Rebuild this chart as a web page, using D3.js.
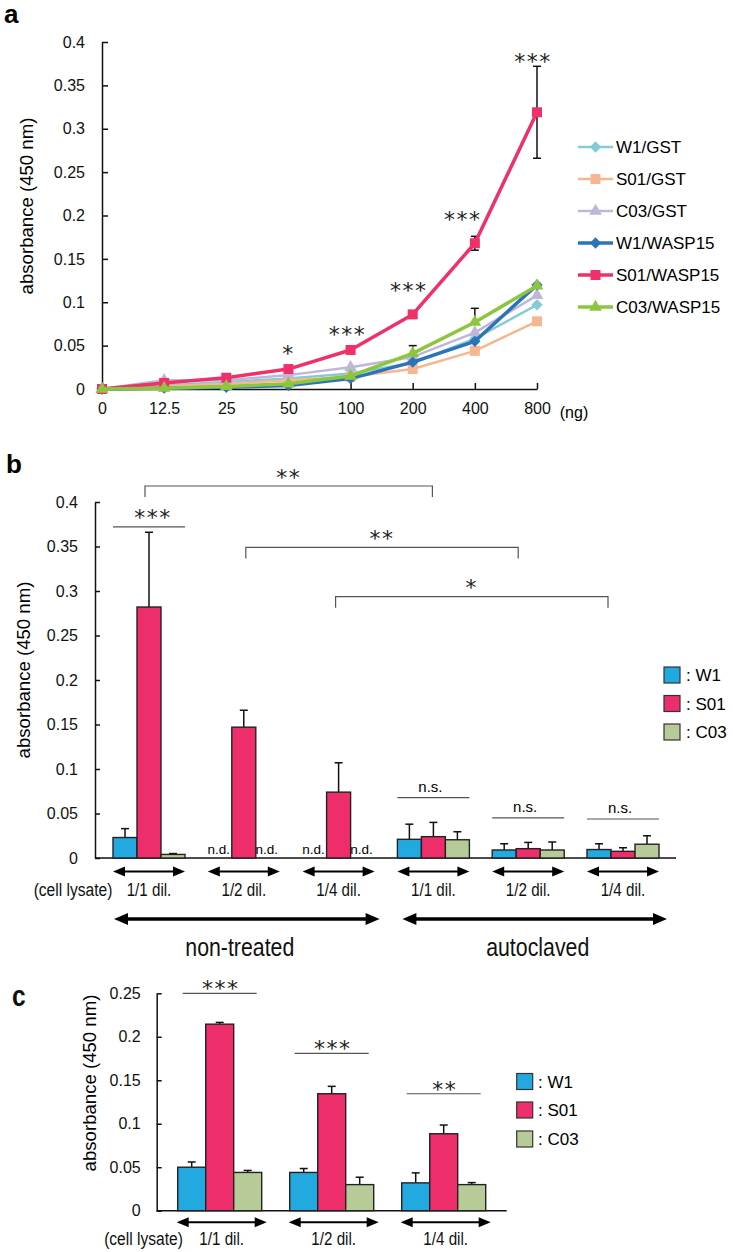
<!DOCTYPE html>
<html><head><meta charset="utf-8">
<script src="https://cdn.jsdelivr.net/npm/d3@7"></script>
<style>
body{margin:0;background:#fff}
svg{display:block}
</style>
</head><body>
<svg id="chart" width="733" height="1252"></svg>
<script>
// ---------------- DATA ----------------
// Panel a
const doses = ["0","12.5","25","50","100","200","400","800"];
const seriesNamesA = ["W1/GST","S01/GST","C03/GST","W1/WASP15","S01/WASP15","C03/WASP15"];
const w1GST   = [0,0.004,0.008,0.012,0.018,0.030,0.058,0.097];
const s01GST  = [0,0.003,0.006,0.010,0.014,0.023,0.044,0.078];
const c03GST  = [0,0.010,0.010,0.016,0.025,0.037,0.065,0.108];
const w1WASP  = [0,0.001,0.002,0.004,0.012,0.031,0.055,0.120];
const s01WASP = [0,0.007,0.013,0.023,0.045,0.086,0.168,0.319];
const c03WASP = [0,0.001,0.003,0.006,0.015,0.041,0.077,0.119];
const s01WASPerr = [0,0,0,0,0,0,0.008,0.053];
const c03WASPerr = [0,0,0,0,0,0.009,0.016,0];
const sigA = ["","","","*","***","***","***","***"];
const ticksA = [0,0.05,0.1,0.15,0.2,0.25,0.3,0.35,0.4];

// Panel b
const groupLabelsB = ["1/1 dil.","1/2 dil.","1/4 dil.","1/1 dil.","1/2 dil.","1/4 dil."];
const treatmentsB = ["non-treated","autoclaved"];
const strains = ["W1","S01","C03"];
const w1B  = [0.023,null,null,0.021,0.009,0.0095];
const s01B = [0.282,0.147,0.074,0.024,0.0105,0.0075];
const c03B = [0.004,null,null,0.0205,0.009,0.0155];
const w1Berr  = [0.010,null,null,0.017,0.007,0.0065];
const s01Berr = [0.084,0.019,0.033,0.016,0.007,0.004];
const c03Berr = [0.001,null,null,0.009,0.009,0.0095];
const sigWithinB = ["***","","","n.s.","n.s.","n.s."];
const bracketPairsB = [[0,3],[1,4],[2,5]];
const bracketLabelsB = ["**","**","*"];
const ticksB = [0,0.05,0.1,0.15,0.2,0.25,0.3,0.35,0.4];

// Panel c
const groupLabelsC = ["1/1 dil.","1/2 dil.","1/4 dil."];
const w1C  = [0.050,0.044,0.032];
const s01C = [0.2145,0.1345,0.0885];
const c03C = [0.044,0.030,0.030];
const w1Cerr  = [0.006,0.0045,0.0115];
const s01Cerr = [0.002,0.0085,0.010];
const c03Cerr = [0.0023,0.0085,0.0023];
const sigC = ["***","***","**"];
const ticksC = [0,0.05,0.1,0.15,0.2,0.25];

// ---------------- STYLE / LAYOUT ----------------
const SANS = "'Liberation Sans', Arial, sans-serif";
const STAR = "'DejaVu Sans', sans-serif";
const colA = ["#84cad7","#f6b68f","#bfb7d9","#2b74b9","#ee3169","#8cc63f"];
const widthA = [2.5,2.5,2.5,3.5,3.5,3.5];
const markerA = ["diamond","square","triangle","diamond","square","triangle"];
const colBar = {W1:"#22a9e0", S01:"#ee2e6b", C03:"#b6cb98"};

const svg = d3.select("#chart");

function styleAxis(g, size, fam){
  g.attr("font-family", fam).attr("font-size", size);
  g.selectAll("path,line").attr("stroke","#111").attr("stroke-width",1.5);
  g.selectAll("text").attr("fill","#111");
}
function stars(g, x, cy, label, size){
  g.append("text").attr("x",x).attr("y",cy + size*0.55)
   .attr("text-anchor","middle").attr("font-family",STAR)
   .attr("font-size",size).attr("letter-spacing",1.5).attr("fill","#222").text(label);
}
// condensed text (emulating a narrow face by horizontal scaling)
function narrow(g, x, y, size, label, opts={}){
  const t = g.append("text").attr("transform",`translate(${x},${y}) scale(0.82,1)`)
    .attr("text-anchor","middle").attr("font-family",SANS).attr("font-size",size).attr("fill","#111").text(label);
  if(opts.bold) t.attr("font-weight","bold");
  if(opts.anchor) t.attr("text-anchor",opts.anchor);
  return t;
}
function dblArrow(g, x1, x2, y, hl, hh, lw){
  g.append("line").attr("x1",x1+hl-1).attr("x2",x2-hl+1).attr("y1",y).attr("y2",y)
   .attr("stroke","#000").attr("stroke-width",lw);
  g.append("path").attr("d",`M${x1},${y}L${x1+hl},${y-hh}L${x1+hl},${y+hh}Z`).attr("fill","#000");
  g.append("path").attr("d",`M${x2},${y}L${x2-hl},${y-hh}L${x2-hl},${y+hh}Z`).attr("fill","#000");
}
function marker(g, type, x, y, color){
  let sym, size, rot = 0;
  if(type==="diamond"){ sym=d3.symbolSquare; size=64; rot=45; }
  else if(type==="square"){ sym=d3.symbolSquare; size=100; }
  else { sym=d3.symbolTriangle; size=70; }
  g.append("path").attr("d", d3.symbol().type(sym).size(size)())
   .attr("transform",`translate(${x},${y}) rotate(${rot})`).attr("fill",color);
}

// ================= PANEL A =================
const gA = svg.append("g");
gA.append("text").attr("x",4).attr("y",23).attr("font-family",SANS).attr("font-weight","bold")
  .attr("font-size",26).text("a");
const xA = d3.scalePoint().domain(doses).range([102,537]);
const yA = d3.scaleLinear().domain([0,0.4]).range([389,42]);

gA.append("g").attr("transform","translate(102,0)")
  .call(d3.axisLeft(yA).tickValues(ticksA).tickSize(-6).tickSizeOuter(0).tickPadding(17).tickFormat(d=>String(d)))
  .call(g=>styleAxis(g,16,SANS));
gA.append("g").attr("transform","translate(0,389)")
  .call(d3.axisBottom(xA).tickSize(-6).tickSizeOuter(0).tickPadding(14))
  .call(g=>styleAxis(g,16,SANS));
gA.append("text").attr("x",574).attr("y",418).attr("text-anchor","middle")
  .attr("font-family",SANS).attr("font-size",16).text("(ng)");
gA.append("text").attr("transform","translate(33,206) rotate(-90)").attr("text-anchor","middle")
  .attr("font-family",SANS).attr("font-size",18.6).text("absorbance (450 nm)");

const valsA = [w1GST,s01GST,c03GST,w1WASP,s01WASP,c03WASP];
const line = d3.line().x((d,i)=>xA(doses[i])).y(d=>yA(d));

const gErrA = gA.append("g").attr("stroke","#111").attr("stroke-width",1.5);
[[s01WASP,s01WASPerr,true],[c03WASP,c03WASPerr,false]].forEach(([v,e,both])=>{
  e.forEach((err,i)=>{
    if(!err) return;
    const x = xA(doses[i]);
    const yt = yA(v[i]+err), yb = both ? yA(v[i]-err) : yA(v[i]);
    gErrA.append("line").attr("x1",x).attr("x2",x).attr("y1",yt).attr("y2",yb);
    gErrA.append("line").attr("x1",x-4).attr("x2",x+4).attr("y1",yt).attr("y2",yt);
    if(both) gErrA.append("line").attr("x1",x-4).attr("x2",x+4).attr("y1",yb).attr("y2",yb);
  });
});

valsA.forEach((vals,s)=>{
  const g = gA.append("g");
  g.append("path").datum(vals).attr("d",line).attr("fill","none")
   .attr("stroke",colA[s]).attr("stroke-width",widthA[s]).attr("stroke-linejoin","round");
  vals.forEach((v,i)=>marker(g, markerA[s], xA(doses[i]), yA(v), colA[s]));
});

const sigOffA = [0,0,0,20,20,28,21,9];
const sigDxA = [0,0,0,0,-3,-4,-12,-4];
sigA.forEach((lab,i)=>{
  if(!lab) return;
  const top = s01WASP[i] + s01WASPerr[i];
  stars(gA, xA(doses[i]) + sigDxA[i], yA(top) - sigOffA[i], lab, 22);
});

seriesNamesA.forEach((name,s)=>{
  const y = 147 + 32*s;
  gA.append("line").attr("x1",578).attr("x2",613).attr("y1",y).attr("y2",y)
    .attr("stroke",colA[s]).attr("stroke-width",widthA[s]);
  marker(gA, markerA[s], 595.5, y, colA[s]);
  gA.append("text").attr("x",616).attr("y",y+6).attr("font-family",SANS).attr("font-size",17).text(name);
});

// ================= PANEL B =================
const gB = svg.append("g");
gB.append("text").attr("x",6).attr("y",473).attr("font-family",SANS).attr("font-weight","bold")
  .attr("font-size",26).text("b");
const yB = d3.scaleLinear().domain([0,0.4]).range([858,502]);
const xB = d3.scaleBand().domain(d3.range(groupLabelsB.length)).range([101.6,670.4]);
const groupW = 72;
const xBi = d3.scaleBand().domain(strains).range([0,groupW]);
const gLeft = i => xB(i) + (xB.bandwidth()-groupW)/2;
const gCenter = i => xB(i) + xB.bandwidth()/2;

gB.append("g").attr("transform","translate(95,0)")
  .call(d3.axisLeft(yB).tickValues(ticksB).tickSize(-5).tickSizeOuter(0).tickPadding(17).tickFormat(d=>String(d)))
  .call(g=>styleAxis(g,16,SANS));
gB.append("line").attr("x1",95).attr("x2",676).attr("y1",yB(0)).attr("y2",yB(0))
  .attr("stroke","#111").attr("stroke-width",1.5);
gB.append("text").attr("transform","translate(30,670) rotate(-90)").attr("text-anchor","middle")
  .attr("font-family",SANS).attr("font-size",18.6).text("absorbance (450 nm)");

const seriesB = [
  {key:"W1", vals:w1B, err:w1Berr},
  {key:"S01", vals:s01B, err:s01Berr},
  {key:"C03", vals:c03B, err:c03Berr}
];
function drawBars(g, series, nGroups, left, inner, y){
  for(let i=0;i<nGroups;i++){
    series.forEach(s=>{
      const v = s.vals[i];
      const x0 = left(i) + inner(s.key), bw = inner.bandwidth();
      if(v==null) return;
      const e = s.err[i] || 0, cx = x0 + bw/2;
      g.append("line").attr("x1",cx).attr("x2",cx).attr("y1",y(v)).attr("y2",y(v+e))
        .attr("stroke","#111").attr("stroke-width",1.5);
      g.append("line").attr("x1",cx-4).attr("x2",cx+4).attr("y1",y(v+e)).attr("y2",y(v+e))
        .attr("stroke","#111").attr("stroke-width",1.5);
      g.append("rect").attr("x",x0).attr("y",y(v)).attr("width",bw).attr("height",y(0)-y(v))
        .attr("fill",colBar[s.key]).attr("stroke","#222").attr("stroke-width",1.4);
    });
  }
}
drawBars(gB, seriesB, groupLabelsB.length, gLeft, xBi, yB);

seriesB.forEach(s=>{
  s.vals.forEach((v,i)=>{
    if(v!=null) return;
    gB.append("text").attr("x",gLeft(i)+xBi(s.key)+xBi.bandwidth()/2-1).attr("y",yB(0)-4)
      .attr("text-anchor","middle").attr("font-family",SANS).attr("font-size",13.5).text("n.d.");
  });
});

const withinLevelB = [0.372,0,0,0.0678,0.045,0.0438];
sigWithinB.forEach((lab,i)=>{
  if(!lab) return;
  const ly = yB(withinLevelB[i]);
  gB.append("line").attr("x1",gLeft(i)).attr("x2",gLeft(i)+groupW).attr("y1",ly).attr("y2",ly)
    .attr("stroke","#555").attr("stroke-width",1.2);
  if(lab==="n.s.") gB.append("text").attr("x",gCenter(i)-3).attr("y",ly-6).attr("text-anchor","middle")
    .attr("font-family",SANS).attr("font-size",15).text(lab);
  else stars(gB, gCenter(i)+4, ly-14, lab, 22);
});

const bracketLevelB = [0.418,0.349,0.2936];
const bracketDxL = [-4,2,-3], bracketDxR = [-1,-10,-15];
bracketPairsB.forEach(([a,b],k)=>{
  const ly = yB(bracketLevelB[k]);
  const xl = gCenter(a)+bracketDxL[k], xr = gCenter(b)+bracketDxR[k];
  gB.append("path").attr("d",`M${xl},${ly+11}V${ly}H${xr}V${ly+11}`)
    .attr("fill","none").attr("stroke","#555").attr("stroke-width",1.2);
  stars(gB, (xl+xr)/2, ly-13.5, bracketLabelsB[k], 22);
});

groupLabelsB.forEach((lab,i)=>{
  dblArrow(gB, gLeft(i), gLeft(i)+groupW, 871.5, 12, 5, 2);
  narrow(gB, gCenter(i), 896, 18.5, lab);
});
narrow(gB, 73, 896, 19, "(cell lysate)");
const bigL = [gLeft(0)+1, gLeft(3)+5], bigR = [gLeft(2)+groupW+5, gLeft(5)+groupW+8];
treatmentsB.forEach((lab,k)=>{
  dblArrow(gB, bigL[k], bigR[k], 919, 14, 6, 3.5);
  narrow(gB, (bigL[k]+bigR[k])/2 - (k===0?7:-3), 956, 26, lab);
});

strains.forEach((s,k)=>{
  const cy = [675,703.5,732][k];
  gB.append("rect").attr("x",664).attr("y",cy-8).attr("width",16).attr("height",16)
    .attr("fill",colBar[s]).attr("stroke","#333").attr("stroke-width",1.2);
  gB.append("text").attr("x",686).attr("y",cy+6).attr("font-family",SANS).attr("font-size",17).text(": "+s);
});

// ================= PANEL C =================
const gC = svg.append("g");
narrow(gC, 12, 1006, 30, "c", {bold:true, anchor:"start"});
const yC = d3.scaleLinear().domain([0,0.25]).range([1210.7,993.3]);
const xC = d3.scaleBand().domain(d3.range(groupLabelsC.length)).range([163.7,499.7]);
const groupWC = 84;
const xCi = d3.scaleBand().domain(strains).range([0,groupWC]);
const cLeft = i => xC(i) + (xC.bandwidth()-groupWC)/2;
const cCenter = i => xC(i) + xC.bandwidth()/2;

gC.append("g").attr("transform","translate(156.7,0)")
  .call(d3.axisLeft(yC).tickValues(ticksC).tickSize(-5).tickSizeOuter(0).tickPadding(16).tickFormat(d=>String(d)))
  .call(g=>styleAxis(g,16,SANS));
gC.append("line").attr("x1",156.7).attr("x2",506.7).attr("y1",yC(0)).attr("y2",yC(0))
  .attr("stroke","#111").attr("stroke-width",1.5);
gC.append("text").attr("transform","translate(96,1083) rotate(-90)").attr("text-anchor","middle")
  .attr("font-family",SANS).attr("font-size",18.6).text("absorbance (450 nm)");

const seriesC = [
  {key:"W1", vals:w1C, err:w1Cerr},
  {key:"S01", vals:s01C, err:s01Cerr},
  {key:"C03", vals:c03C, err:c03Cerr}
];
drawBars(gC, seriesC, groupLabelsC.length, cLeft, xCi, yC);

const sigLevelC = [0.25,0.181,0.1345];
sigC.forEach((lab,i)=>{
  const ly = yC(sigLevelC[i]);
  gC.append("line").attr("x1",cCenter(i)-37).attr("x2",cCenter(i)+37).attr("y1",ly).attr("y2",ly)
    .attr("stroke","#555").attr("stroke-width",1.2);
  stars(gC, cCenter(i)+1, ly-9, lab, 22);
});

groupLabelsC.forEach((lab,i)=>{
  dblArrow(gC, cLeft(i)-1, cLeft(i)+groupWC+5, 1222.3, 12, 5, 2);
  narrow(gC, cCenter(i)+2, 1245, 18.5, lab);
});
narrow(gC, 143.5, 1245, 19, "(cell lysate)");

strains.forEach((s,k)=>{
  const cy = [1081.5,1110,1139][k];
  gC.append("rect").attr("x",516.7).attr("y",cy-8).attr("width",16).attr("height",16)
    .attr("fill",colBar[s]).attr("stroke","#333").attr("stroke-width",1.2);
  gC.append("text").attr("x",538).attr("y",cy+6).attr("font-family",SANS).attr("font-size",17).text(": "+s);
});
</script>
</body></html>
